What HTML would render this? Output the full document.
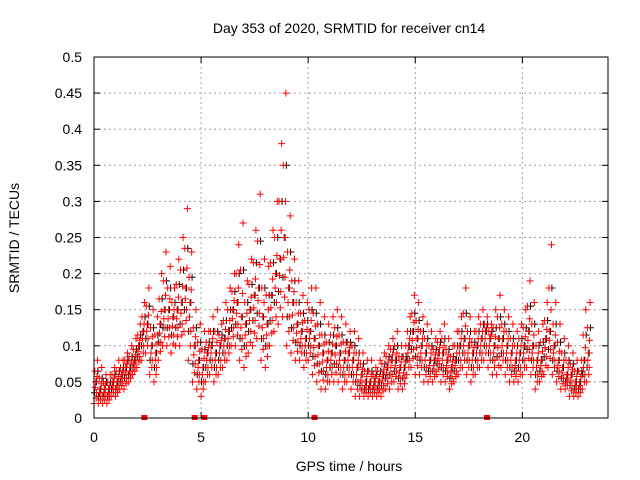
<!DOCTYPE html>
<html><head><meta charset="utf-8"><style>
body{margin:0;background:#fff}
svg{display:block;font-family:"Liberation Sans",sans-serif}
</style></head><body>
<svg id="chart" width="640" height="480" xmlns="http://www.w3.org/2000/svg"></svg>
<script>
const hours=[];for(let i=0;i<=115;i++)hours.push(+(i*0.2).toFixed(1));
const lowVals=[.02,.02,.02,.02,.03,.03,.04,.04,.05,.06,.07,.08,.09,.06,.05,.08,.10,.10,.09,.10,.10,.12,.08,.05,.04,.03,.05,.06,.05,.06,.07,.08,.10,.10,.08,.07,.09,.10,.11,.08,.07,.10,.12,.13,.14,.10,.09,.08,.08,.07,.08,.06,.05,.04,.04,.05,.05,.05,.04,.05,.04,.03,.03,.03,.03,.03,.03,.03,.04,.04,.05,.04,.04,.06,.07,.06,.06,.05,.05,.05,.06,.05,.05,.04,.05,.06,.07,.06,.05,.06,.07,.08,.07,.06,.06,.07,.06,.05,.05,.05,.06,.07,.06,.04,.05,.06,.07,.06,.05,.04,.04,.03,.03,.03,.04,.05];
const midVals=[.05,.04,.04,.04,.05,.05,.06,.07,.07,.08,.10,.12,.13,.10,.09,.13,.15,.15,.14,.15,.16,.18,.16,.10,.08,.07,.09,.10,.09,.10,.11,.12,.15,.16,.14,.13,.15,.17,.18,.14,.13,.17,.20,.22,.25,.18,.16,.13,.12,.11,.12,.11,.10,.09,.08,.09,.10,.09,.08,.09,.08,.07,.06,.05,.05,.05,.05,.06,.07,.08,.08,.07,.07,.10,.12,.11,.10,.09,.08,.08,.09,.09,.08,.07,.08,.10,.11,.10,.09,.10,.11,.12,.11,.10,.11,.11,.10,.09,.08,.09,.10,.12,.10,.08,.08,.11,.12,.10,.08,.07,.06,.06,.05,.05,.08,.09];
const highVals=[.08,.07,.06,.06,.07,.08,.08,.09,.10,.11,.13,.16,.18,.15,.14,.20,.23,.21,.18,.22,.25,.29,.23,.15,.13,.12,.12,.14,.15,.13,.16,.18,.20,.24,.27,.19,.22,.26,.31,.22,.21,.26,.30,.38,.45,.28,.22,.19,.17,.16,.18,.18,.16,.14,.13,.14,.15,.14,.13,.12,.12,.11,.09,.08,.08,.07,.08,.09,.10,.11,.12,.10,.10,.14,.17,.16,.14,.13,.12,.11,.12,.13,.11,.10,.12,.14,.18,.14,.12,.14,.15,.14,.13,.15,.17,.15,.14,.13,.12,.13,.15,.19,.16,.12,.13,.16,.24,.16,.13,.11,.10,.09,.08,.08,.15,.16];
const gapHours=[2.35,4.7,5.15,10.3,18.35];
const xTicks=[0,5,10,15,20];
const yTicks=[0,0.05,0.1,0.15,0.2,0.25,0.3,0.35,0.4,0.45,0.5];
const L=94,R=608,T=57,B=418;
const xs=h=>L+(h/24)*(R-L), ys=v=>B-(v/0.5)*(B-T);
const svg=document.getElementById('chart');const NS='http://www.w3.org/2000/svg';
function mk(tag,a,p){const e=document.createElementNS(NS,tag);for(const k in a)e.setAttribute(k,a[k]);(p||svg).appendChild(e);return e;}
const grid=mk('g',{});
yTicks.forEach(v=>{if(v>0&&v<0.5)mk('line',{x1:L,x2:R,y1:ys(v),y2:ys(v),stroke:'#a0a0a0','stroke-dasharray':'2,3'},grid);
 const t=mk('text',{x:L-12,y:ys(v)+5,'text-anchor':'end','font-size':'14',fill:'#000'});t.textContent=String(v);
 
 mk('line',{x1:L,x2:L+6,y1:ys(v),y2:ys(v),stroke:'#000'});mk('line',{x1:R,x2:R-6,y1:ys(v),y2:ys(v),stroke:'#000'});});
xTicks.forEach(h=>{if(h>0)mk('line',{x1:xs(h),x2:xs(h),y1:T,y2:B,stroke:'#a0a0a0','stroke-dasharray':'2,3'},grid);
 const t=mk('text',{x:xs(h),y:B+24,'text-anchor':'middle','font-size':'14',fill:'#000'});t.textContent=String(h);
 
 mk('line',{x1:xs(h),x2:xs(h),y1:B,y2:B-6,stroke:'#000'});mk('line',{x1:xs(h),x2:xs(h),y1:T,y2:T+6,stroke:'#000'});});
const pts=mk('g',{'stroke-width':'1'});
function plus(x,y,c){mk('path',{d:`M${x-3.5},${y}h7M${x},${y-3.5}v7`,stroke:c},pts);}
hours.forEach((h,i)=>{const lo=lowVals[i],m=midVals[i],hi=highVals[i];
 plus(xs(h+0.02),ys((lo+m)/2),'#000');plus(xs(h+0.12),ys(m),'#000');plus(xs(h+0.18),ys((m+hi)/2),'#000');});
hours.forEach((h,i)=>{const lo=lowVals[i],m=midVals[i],hi=highVals[i];
 const q1=(lo+m)/2,q3=(m+hi)/2;
 plus(xs(h),ys(lo),'#f00');plus(xs(h+0.04),ys(q3),'#f00');plus(xs(h+0.08),ys(m),'#f00');
 plus(xs(h+0.1),ys((lo+q1)/2),'#f00');plus(xs(h+0.12),ys(q1),'#f00');plus(xs(h+0.14),ys((m+q3)/2),'#f00');
 plus(xs(h+0.16),ys(hi),'#f00');plus(xs(h+0.06),ys((q1+m)/2),'#f00');});
gapHours.forEach(h=>{const r=mk('rect',{x:xs(h)-3,y:B-3,width:6,height:5,fill:'#f00'});});
const f=mk('rect',{x:L,y:T,width:R-L,height:B-T,fill:'none',stroke:'#000','stroke-width':'1'});
const tt=mk('text',{x:349,y:33,'text-anchor':'middle','font-size':'14'});tt.textContent='Day 353 of 2020, SRMTID for receiver cn14';
const xt=mk('text',{x:349,y:471,'text-anchor':'middle','font-size':'14'});xt.textContent='GPS time / hours';
const yt=mk('text',{x:0,y:0,'text-anchor':'middle','font-size':'14',transform:'translate(19,238) rotate(-90)'});yt.textContent='SRMTID / TECUs';
</script>
</body></html>
